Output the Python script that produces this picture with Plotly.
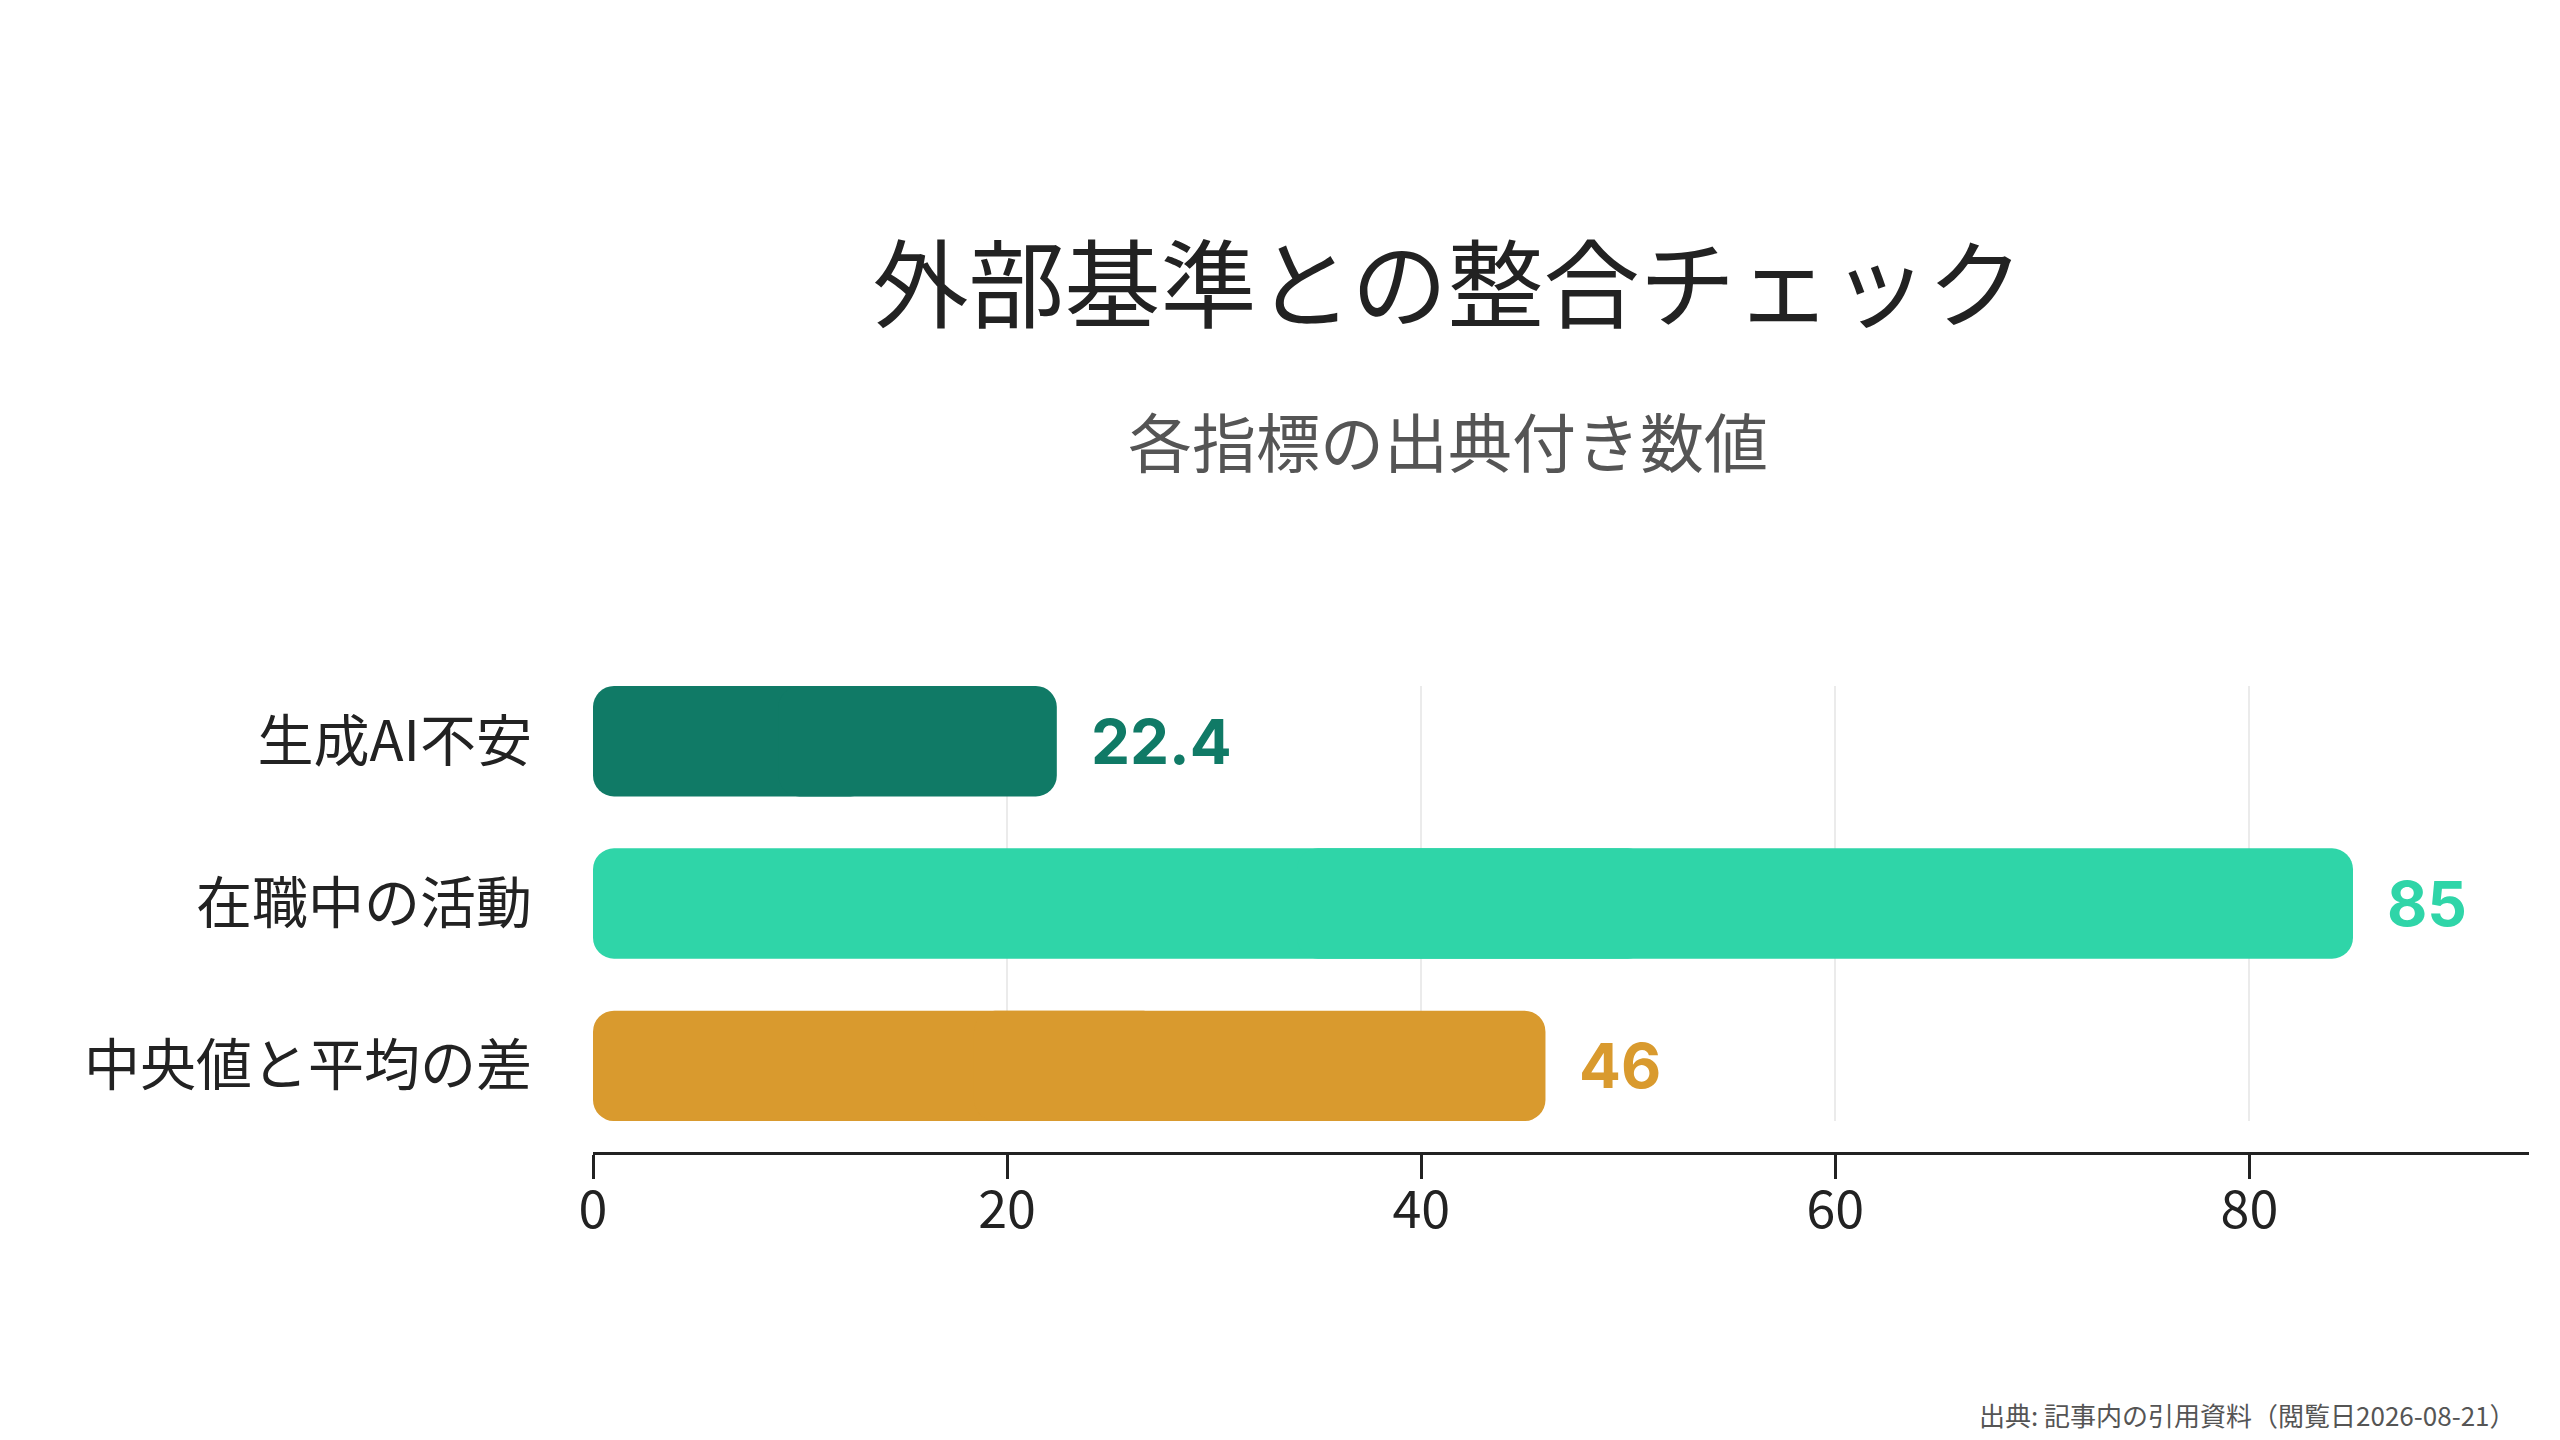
import plotly.graph_objects as go

# データ
categories = ["生成AI不安", "在職中の活動", "中央値と平均の差"]
values = [22.4, 85, 46]
value_labels = ["22.4", "85", "46"]
bar_colors = ["#107a66", "#2fd5a8", "#d99a2e"]
x_ticks = [0, 20, 40, 60, 80]

title_text = "外部基準との整合チェック"
subtitle_text = "各指標の出典付き数値"
source_text = "出典: 記事内の引用資料（閲覧日2026-08-21）"

JP = "Noto Sans CJK JP"

fig = go.Figure()

# 両端を丸めるため、バーを左右2本に分けて重ねる
left_len = [v * 0.6 for v in values]
right_len = [v * 0.6 for v in values]
fig.add_trace(go.Bar(
    base=left_len, x=[-l for l in left_len], y=categories,
    orientation="h", opacity=1,
    marker=dict(color=bar_colors, opacity=1, cornerradius=21, line=dict(width=0)),
    hoverinfo="skip",
))
fig.add_trace(go.Bar(
    base=[v - r for v, r in zip(values, right_len)], x=right_len, y=categories,
    orientation="h", opacity=1,
    marker=dict(color=bar_colors, opacity=1, cornerradius=21, line=dict(width=0)),
    hoverinfo="skip",
))

# 値ラベル（バーの右側）
for cat, val, lab, col in zip(categories, values, value_labels, bar_colors):
    fig.add_annotation(
        x=val, y=cat, xref="x", yref="y",
        text="<b>" + lab + "</b>",
        showarrow=False, xanchor="left", yanchor="middle", xshift=32,
        font=dict(family="Inter, " + JP, size=62, color=col),
    )

# サブタイトル
fig.add_annotation(
    x=0.4416, y=1.529, xref="paper", yref="paper",
    text=subtitle_text, showarrow=False,
    xanchor="center", yanchor="middle",
    font=dict(family=JP, size=64, color="#555555"),
)

# 出典
fig.add_annotation(
    x=0.9943, y=-0.559, xref="paper", yref="paper",
    text=source_text, showarrow=False,
    xanchor="right", yanchor="middle",
    font=dict(family=JP, size=26, color="#555555"),
)

fig.update_layout(
    width=2560, height=1440,
    paper_bgcolor="white", plot_bgcolor="white",
    margin=dict(l=585, r=39, t=678, b=295),
    barmode="overlay",
    bargap=0.32,
    showlegend=False,
    font=dict(family=JP, color="#222222"),
    title=dict(
        text=title_text,
        x=0.5625, xref="container", xanchor="center",
        y=0.807, yref="container", yanchor="middle",
        font=dict(family=JP, size=96, color="#222222"),
    ),
    xaxis=dict(
        range=[0, max(values) * 1.1],
        tickvals=x_ticks,
        showgrid=True, gridcolor="#ebebeb", gridwidth=2,
        zeroline=False,
        showline=True, linecolor="#222222", linewidth=3,
        ticks="outside", ticklen=24, tickwidth=3, tickcolor="#222222",
        ticklabelstandoff=-13,
        tickfont=dict(family=JP, size=52, color="#222222"),
        anchor="free", position=0,
        fixedrange=True,
    ),
    yaxis=dict(
        domain=[0.0685, 1],
        range=[2.34, -0.34],
        showgrid=False, zeroline=False, showline=False,
        ticks="",
        ticklabelstandoff=60,
        tickfont=dict(family=JP, size=56, color="#222222"),
        fixedrange=True,
    ),
)

fig.write_html("out.html")
